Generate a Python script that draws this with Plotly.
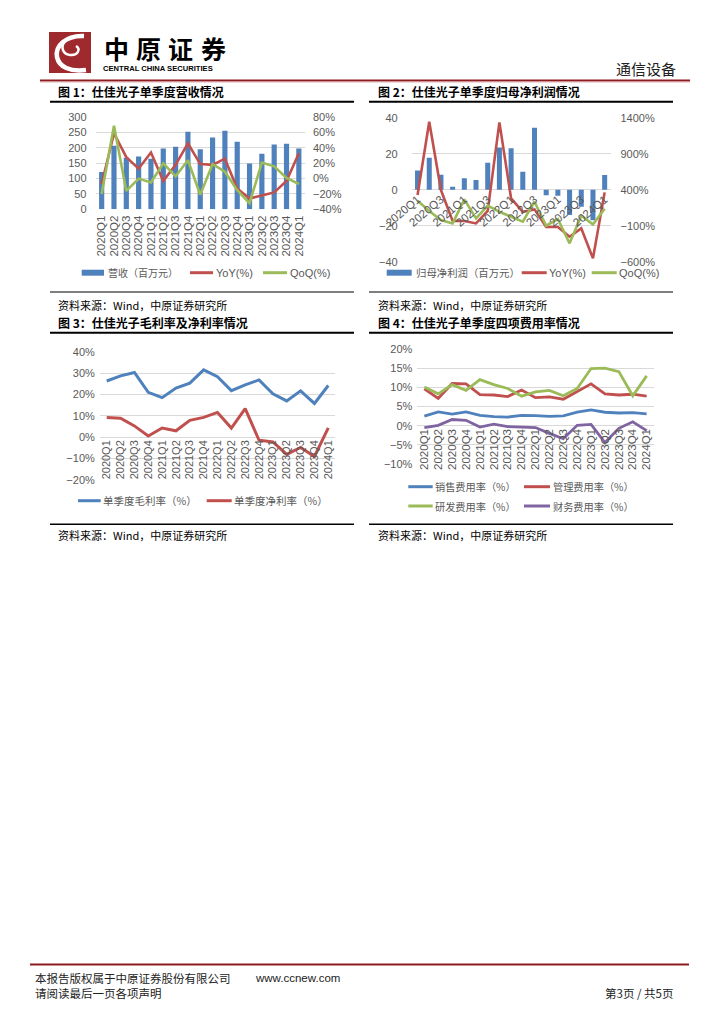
import plotly.graph_objects as go

W, H = 724, 1024

quarters = ["2020Q1", "2020Q2", "2020Q3", "2020Q4", "2021Q1", "2021Q2", "2021Q3", "2021Q4",
            "2022Q1", "2022Q2", "2022Q3", "2022Q4", "2023Q1", "2023Q2", "2023Q3", "2023Q4", "2024Q1"]

# Chart 1: revenue (million CNY) and growth (%)
revenue = [122, 207, 168, 172, 165, 198, 204, 253, 196, 234, 256, 220, 149, 181, 211, 214, 198]
rev_yoy = [-7, 59, 28, 13, 34, -3, 18, 46, 19, 18, 26, -13, -26, -22, -18, -3, 33]
rev_qoq = [-20, 69, -16, 0, -5, 20, 3, 24, -21, 19, 9, -15, -32, 21, 16, 1, -7]

# Chart 2: net profit attributable (million CNY) and growth (%)
profit = [10.7, 17.8, 8.3, 1.7, 6.3, 5.4, 15.0, 23.5, 23.0, 10.0, 34.4, -3.1, -3.3, -14.0, -9.5, -17.0, 8.1]
profit_yoy = [326, 1344, 395, -35, -35, -68, 104, 1335, 280, 94, 127, -118, -118, -253, -137, -554, 363]
profit_qoq = [247, 104, -21, -68, 266, 2, 178, 94, 25, -44, 233, -100, -7, -345, 39, -81, 136]

# Chart 3: margins (%)
gross_margin = [26.3, 28.7, 30.3, 21.0, 18.5, 23.0, 25.3, 31.5, 28.3, 21.8, 24.5, 26.8, 20.3, 17.0, 21.7, 15.8, 24.2]
net_margin = [9.2, 8.9, 5.3, 0.6, 4.3, 3.0, 7.9, 9.3, 11.6, 4.3, 13.4, -1.4, -2.2, -8.0, -4.8, -9.0, 4.4]

# Chart 4: expense ratios (%)
sales_ratio = [2.5, 3.6, 3.0, 3.6, 2.7, 2.35, 2.25, 2.7, 2.6, 2.45, 2.55, 3.55, 4.1, 3.5, 3.3, 3.4, 3.1]
admin_ratio = [9.6, 7.1, 11.0, 10.9, 8.1, 8.0, 7.6, 9.3, 7.3, 7.5, 6.9, 9.0, 10.9, 8.3, 8.0, 8.2, 7.7]
rd_ratio = [10.1, 8.3, 10.7, 9.2, 12.0, 10.7, 9.7, 7.7, 8.8, 9.2, 7.8, 9.7, 14.9, 15.0, 14.1, 7.8, 13.0]
fin_ratio = [-0.5, 0.1, 1.6, 1.4, -0.35, 0.4, -0.25, -0.35, -0.5, -2.0, -3.4, 0.1, 0.35, -4.4, -0.7, 1.0, -1.3]

titles = ["图 1：仕佳光子单季度营收情况", "图 2：仕佳光子单季度归母净利润情况",
          "图 3：仕佳光子毛利率及净利率情况", "图 4：仕佳光子单季度四项费用率情况"]
source_text = "资料来源：Wind，中原证券研究所"

BLUE = "#4F81BD"
RED = "#C0504D"
GREEN = "#9BBB59"
PURPLE = "#8064A2"
GRID = "#D9D9D9"
TICK = "#595959"
LOGO_RED = "#9E2A2E"
NUM_FONT = "Liberation Sans, Arial, sans-serif"
CN_FONT = "Noto Sans CJK SC, sans-serif"


def fx(x):
    return x / W


def fy(y):
    return 1 - y / H


fig = go.Figure()

# ---- chart 1
fig.add_trace(go.Bar(x=quarters, y=revenue, marker_color=BLUE, width=0.42, xaxis="x", yaxis="y"))
fig.add_trace(go.Scatter(x=quarters, y=rev_yoy, mode="lines", line=dict(color=RED, width=2.6), xaxis="x", yaxis="y2"))
fig.add_trace(go.Scatter(x=quarters, y=rev_qoq, mode="lines", line=dict(color=GREEN, width=2.6), xaxis="x", yaxis="y2"))
# ---- chart 2
fig.add_trace(go.Bar(x=quarters, y=profit, marker_color=BLUE, width=0.43, xaxis="x2", yaxis="y3"))
fig.add_trace(go.Scatter(x=quarters, y=profit_yoy, mode="lines", line=dict(color=RED, width=2.6), xaxis="x2", yaxis="y4"))
fig.add_trace(go.Scatter(x=quarters, y=profit_qoq, mode="lines", line=dict(color=GREEN, width=2.6), xaxis="x2", yaxis="y4"))
# ---- chart 3
fig.add_trace(go.Scatter(x=quarters, y=gross_margin, mode="lines", line=dict(color=BLUE, width=3), xaxis="x3", yaxis="y5"))
fig.add_trace(go.Scatter(x=quarters, y=net_margin, mode="lines", line=dict(color=RED, width=3), xaxis="x3", yaxis="y5"))
# ---- chart 4
fig.add_trace(go.Scatter(x=quarters, y=sales_ratio, mode="lines", line=dict(color=BLUE, width=2.8), xaxis="x4", yaxis="y6"))
fig.add_trace(go.Scatter(x=quarters, y=admin_ratio, mode="lines", line=dict(color=RED, width=2.8), xaxis="x4", yaxis="y6"))
fig.add_trace(go.Scatter(x=quarters, y=rd_ratio, mode="lines", line=dict(color=GREEN, width=2.8), xaxis="x4", yaxis="y6"))
fig.add_trace(go.Scatter(x=quarters, y=fin_ratio, mode="lines", line=dict(color=PURPLE, width=2.8), xaxis="x4", yaxis="y6"))

tickfont = dict(family=NUM_FONT, size=11, color=TICK)
xtickfont = dict(family=NUM_FONT, size=11.5, color=TICK)


def xax(domain, **kw):
    d = dict(domain=domain, type="category", range=[-0.5, len(quarters) - 0.5], showgrid=False,
             showline=False, zeroline=False, ticks="", tickfont=xtickfont, fixedrange=True,
             tickmode="array", tickvals=quarters, ticktext=quarters)
    d.update(kw)
    return d


def yax(**kw):
    d = dict(showgrid=True, gridcolor=GRID, gridwidth=1, showline=False, zeroline=False, ticks="",
             tickfont=tickfont, fixedrange=True)
    d.update(kw)
    return d


layout = dict(
    width=W, height=H, margin=dict(l=0, r=0, t=0, b=0), template="none",
    paper_bgcolor="white", plot_bgcolor="rgba(0,0,0,0)", showlegend=False, hovermode=False,
    xaxis=xax([fx(95.5), fx(305)], anchor="y", tickangle=-90, ticklabelstandoff=3),
    yaxis=yax(domain=[fy(209.3), fy(117.3)], anchor="x", range=[0, 300], dtick=50, ticklabelstandoff=8),
    yaxis2=yax(overlaying="y", side="right", anchor="x", range=[-40, 80], dtick=20, ticksuffix="%",
               showgrid=False, ticklabelstandoff=7),
    xaxis2=xax([fx(411.7), fx(610.5)], anchor="free", position=fy(189.7), tickangle=-40,
               tickmode="array", tickvals=quarters[::2], ticktext=quarters[::2]),
    yaxis3=yax(domain=[fy(261.7), fy(117.7)], anchor="x2", range=[-40, 40], dtick=20, ticklabelstandoff=13),
    yaxis4=yax(overlaying="y3", side="right", anchor="x2", range=[-600, 1400], tick0=-600, dtick=500,
               ticksuffix="%", showgrid=False, ticklabelstandoff=9),
    xaxis3=xax([fx(99.8), fx(335.2)], anchor="free", position=fy(437), tickangle=-90,
               tickfont=dict(family=NUM_FONT, size=11, color=TICK)),
    yaxis5=yax(domain=[fy(480), fy(351.7)], anchor="x3", range=[-20, 40], dtick=10, ticksuffix="%",
               ticklabelstandoff=4),
    xaxis4=xax([fx(417.4), fx(653.6)], anchor="free", position=fy(425.7), tickangle=-90),
    yaxis6=yax(domain=[fy(464), fy(349)], anchor="x4", range=[-10, 20], dtick=5, ticksuffix="%",
               ticklabelstandoff=4),
)
fig.update_layout(**layout)

shapes = []
annotations = []


def hline(x0, x1, y, color="black", width=1.0):
    shapes.append(dict(type="line", xref="paper", yref="paper", x0=fx(x0), x1=fx(x1), y0=fy(y), y1=fy(y),
                       line=dict(color=color, width=width)))


def text(x, y, s, size=11, family=CN_FONT, color="black", xanchor="left"):
    annotations.append(dict(xref="paper", yref="paper", x=fx(x), y=fy(y), text=s, showarrow=False,
                            xanchor=xanchor, yanchor="middle", font=dict(family=family, size=size, color=color),
                            borderpad=0))


def path(points, color, width, fill=None):
    p = "M " + " ".join(
        (f"{c} " if isinstance(c, str) else f"{fx(c[0]):.5f},{fy(c[1]):.5f} ") for c in points)
    shapes.append(dict(type="path", xref="paper", yref="paper", path=p,
                       line=dict(color=color, width=width), fillcolor=fill or "rgba(0,0,0,0)"))


# ---- header
shapes.append(dict(type="rect", xref="paper", yref="paper", x0=fx(49), x1=fx(91), y0=fy(73), y1=fy(32),
                   fillcolor=LOGO_RED, line=dict(width=0)))
path([(84, 36), "C", (66, 35), (55, 46), (57, 57), "C", (59, 67), (70, 72), (86, 70)], "white", 4.5)
path([(66, 40), "C", (60, 46), (62, 54), (70, 55), "C", (78, 56), (81, 49), (76, 46)], "white", 2.5)
for ch, cx in zip("中原证券", [116, 148, 180, 213]):
    text(cx, 48, "<b>" + ch + "</b>", size=25, color="black", xanchor="center")
text(102, 68, "<b>CENTRAL CHINA SECURITIES</b>", size=7.6, family=NUM_FONT)
text(677, 68, "通信设备", size=15, color="#222222", xanchor="right")
hline(40, 690, 80.5, color="#8E1B1F", width=2.2)
hline(40, 690, 82.3, color="#E6C2C2", width=0.8)

# ---- section titles, rules and sources
for (x0, x1, tx), t_top, t_bottom in [((50, 354, 57), 0, 2), ((369, 673, 377), 1, 3)]:
    text(tx, 91.7, "<b>" + titles[t_top] + "</b>", size=12)
    hline(x0, x1, 101.7, width=2)
    hline(x0, x1, 292, width=1.2)
    text(tx, 304.5, source_text, size=11)
    text(tx, 322.7, "<b>" + titles[t_bottom] + "</b>", size=12)
    hline(x0, x1, 332.7, width=2)
    hline(x0, x1, 524.3, width=1.5)
    text(tx, 535, source_text, size=11)


# ---- legends (manual swatches)
def legend_bar(x0, x1, y, label, color=BLUE, size=10):
    shapes.append(dict(type="rect", xref="paper", yref="paper", x0=fx(x0), x1=fx(x1), y0=fy(y + 3),
                       y1=fy(y - 3), fillcolor=color, line=dict(width=0)))
    text(x1 + 3, y, label, size=size, color=TICK)


def legend_line(x0, x1, y, label, color, size=10.5, family=CN_FONT):
    hline(x0, x1, y, color=color, width=3)
    text(x1 + 1.5, y, label, size=size, color=TICK, family=family)


legend_bar(81.7, 104, 272.7, "营收（百万元）", size=10)
legend_line(190, 213, 272.7, "YoY(%)", RED, size=11, family=NUM_FONT)
legend_line(263, 287, 272.7, "QoQ(%)", GREEN, size=11, family=NUM_FONT)

legend_bar(386.7, 411.7, 272.7, "归母净利润（百万元）", size=10.4)
legend_line(521.7, 546.7, 272.7, "YoY(%)", RED, size=11, family=NUM_FONT)
legend_line(591.7, 616.7, 272.7, "QoQ(%)", GREEN, size=11, family=NUM_FONT)

legend_line(78, 100.7, 500.7, "单季度毛利率（%）", BLUE)
legend_line(206.7, 231.7, 500.7, "单季度净利率（%）", RED)

legend_line(408.3, 432.7, 486.7, "销售费用率（%）", BLUE, size=10.2)
legend_line(524, 550, 486.7, "管理费用率（%）", RED, size=10.2)
legend_line(408.3, 432.7, 506, "研发费用率（%）", GREEN, size=10.2)
legend_line(524, 550, 506, "财务费用率（%）", PURPLE, size=10.2)

# ---- footer
hline(30, 689, 964.5, color="#8E1B1F", width=2)
text(34, 978, "本报告版权属于中原证券股份有限公司", size=11.5, color="#222222")
text(254, 978, "www.ccnew.com", size=11.5, family=NUM_FONT, color="#222222")
text(34, 992.7, "请阅读最后一页各项声明", size=11.5, color="#222222")
text(674, 992.7, "第3页 / 共5页", size=11.5, color="#222222", xanchor="right")

fig.update_layout(shapes=shapes, annotations=annotations)
fig.write_html("out.html", config={"displayModeBar": False},
               post_script="document.body.style.margin='0';document.body.style.overflow='hidden';")
